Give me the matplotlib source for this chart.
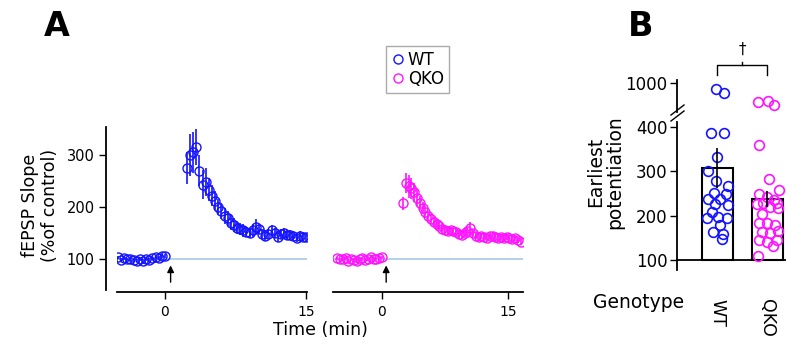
import numpy as np
import matplotlib.pyplot as plt
from matplotlib.lines import Line2D

plt.rcParams['font.family'] = 'DejaVu Sans'

W, H = 786, 349
wt_color = '#1414ff'
qko_color = '#ff14ff'

# ---- panel A: time course (min, % of control) ----
dt = 1.0 / 3.0  # 20 s sampling
wt_base_start = -5.0
wt_base = [103, 98, 101, 99, 100, 98, 97, 99, 96, 100, 98, 101, 104, 102, 105, 106]
wt_base_err = [3, 3, 3, 3, 3, 3, 3, 3, 3, 3, 3, 3, 4, 4, 4, 4]
wt_post_start = 2.33
wt_post = [275, 300, 305, 315, 270, 243, 248, 233, 222, 212, 200, 192, 183, 178, 170, 165,
           160, 158, 155, 152, 150, 155, 162, 158, 148, 145, 148, 155, 150, 143, 148, 150,
           146, 147, 145, 140, 145, 143, 142]
wt_post_err = [30, 40, 40, 35, 30, 28, 26, 22, 20, 18, 15, 15, 15, 14, 14, 13, 12, 12, 12, 10,
               10, 12, 14, 10, 10, 10, 10, 10, 10, 10, 10, 9, 9, 9, 9, 8, 8, 8, 8]

qko_base_start = -5.33
qko_base = [101, 99, 100, 102, 97, 100, 98, 96, 99, 101, 98, 100, 104, 100, 99, 102, 103]
qko_base_err = [3] * 17
qko_post_start = 2.5
qko_post = [207, 246, 240, 236, 228, 218, 208, 198, 190, 183, 177, 172, 167, 163, 158, 155,
            154, 155, 153, 152, 148, 146, 150, 153, 160, 150, 145, 142, 144, 143, 140, 144,
            145, 143, 140, 142, 141, 142, 140, 138, 140, 136, 133]
qko_post_err = [12, 20, 22, 20, 18, 16, 14, 12, 12, 10, 10, 9, 9, 8, 8, 8, 8, 7, 7, 7, 7, 7,
                7, 8, 12, 8, 7, 7, 6, 6, 6, 6, 6, 6, 6, 6, 6, 6, 6, 6, 6, 6, 6]
tetanus_wt = 0.6
tetanus_qko = 0.5

# ---- panel B: earliest potentiation per slice ----
genotypes = ['WT', 'QKO']
bar_means = [308, 238]
bar_sem = [45, 18]
wt_pts = [920, 860, 387, 386, 333, 301, 278, 267, 252, 250, 237, 238, 226, 224, 209, 195,
          198, 194, 179, 164, 158, 147]
wt_jit = [-0.03, 0.13, -0.12, 0.13, 0.0, -0.19, -0.02, 0.21, -0.07, 0.18, -0.19, 0.06, -0.04,
          0.21, -0.11, -0.21, 0.01, 0.19, 0.06, -0.09, 0.11, 0.09]
qko_pts = [744, 753, 698, 360, 282, 258, 249, 243, 229, 229, 235, 226, 220, 217, 203, 183,
           183, 179, 164, 162, 166, 145, 141, 145, 132, 109]
qko_jit = [-0.19, 0.01, 0.13, -0.17, 0.03, 0.23, -0.17, -0.01, -0.09, 0.19, 0.13, -0.21, 0.06,
           0.21, -0.11, -0.16, -0.01, 0.16, -0.11, 0.06, 0.21, -0.17, -0.01, 0.19, 0.11, -0.19]


def fbox(x0, y0, x1, y1):
    # pixel box (top-left origin) -> figure fraction rect
    return [x0 / W, 1 - y1 / H, (x1 - x0) / W, (y1 - y0) / H]


fig = plt.figure(figsize=(W / 100, H / 100), dpi=100)

axL = fig.add_axes(fbox(117, 127, 307, 292))
axR = fig.add_axes(fbox(333, 127, 523, 292))
ylimA = (36.5, 353.8)


def trace(ax, base_start, base, base_err, post_start, post, post_err, color):
    tb = base_start + dt * np.arange(len(base))
    tp = post_start + dt * np.arange(len(post))
    for t, v, e in ((tb, base, base_err), (tp, post, post_err)):
        ax.errorbar(t, v, yerr=e, fmt='o', ms=6.5, mfc='none', mec=color, mew=1.0,
                    ecolor=color, elinewidth=1.2, capsize=0, zorder=3)


for ax, xlim in ((axL, (-5.1, 15.1)), (axR, (-5.83, 16.79))):
    ax.axhline(100, color='#a8c8e8', lw=1.2, zorder=1)
    ax.set_xlim(*xlim)
    ax.set_ylim(*ylimA)
    for s in ('top', 'right'):
        ax.spines[s].set_visible(False)
    ax.spines['bottom'].set_linewidth(1.3)
    ax.set_xticks([0, 15])
    ax.tick_params(axis='x', direction='out', length=5, width=1, labelsize=10, pad=4)

trace(axL, wt_base_start, wt_base, wt_base_err, wt_post_start, wt_post, wt_post_err, wt_color)
trace(axR, qko_base_start, qko_base, qko_base_err, qko_post_start, qko_post, qko_post_err, qko_color)

axL.spines['left'].set_position(('outward', 8))
axL.spines['left'].set_linewidth(1.3)
axL.spines['left'].set_bounds(40, ylimA[1])
axL.set_yticks([100, 200, 300])
axL.tick_params(axis='y', direction='out', length=5, width=1, labelsize=10.5, pad=3)
axR.spines['left'].set_visible(False)
axR.set_yticks([])

for ax, t in ((axL, tetanus_wt), (axR, tetanus_qko)):
    ax.annotate('', xy=(t, 93), xytext=(t, 50),
                arrowprops=dict(arrowstyle='-|>', color='black', lw=1.0, mutation_scale=10))

fig.text(320 / W, 1 - 330 / H, 'Time (min)', ha='center', va='center', fontsize=12.5)
fig.text(40 / W, 1 - 205 / H, 'fEPSP Slope\n(%of control)', rotation=90, ha='center',
         va='center', fontsize=12.5, linespacing=1.1)

handles = [Line2D([], [], ls='none', marker='o', ms=6.5, mfc='none', mec=wt_color, mew=1.0),
           Line2D([], [], ls='none', marker='o', ms=6.5, mfc='none', mec=qko_color, mew=1.0)]
fig.legend(handles, genotypes, loc='upper left', bbox_to_anchor=(386 / W, 1 - 46 / H),
           fontsize=12, frameon=True, fancybox=False, edgecolor='#aaaaaa', framealpha=1,
           handlelength=0.8, handletextpad=0.2, borderpad=0.3, labelspacing=0.05,
           borderaxespad=0)

# ---- panel B axes: broken y axis ----
axB = fig.add_axes(fbox(677, 121.7, 786, 270))
axT = fig.add_axes(fbox(677, 80, 786, 112))
axB.set_ylim(77.4, 412)
axT.set_ylim(600, 1046)
x = np.arange(len(genotypes))
for ax in (axB, axT):
    ax.set_xlim(-0.8, 1.38)
    ax.patch.set_alpha(0)
    for s in ('top', 'right'):
        ax.spines[s].set_visible(False)
    ax.spines['left'].set_linewidth(1.3)
    ax.tick_params(axis='y', direction='out', length=5, width=1, labelsize=12, pad=2)

axB.bar(x, np.array(bar_means) - 100, bottom=100, width=0.62, color='white',
        edgecolor='black', lw=1.5, zorder=2)
axB.errorbar(x, bar_means, yerr=bar_sem, fmt='none', ecolor='black', elinewidth=1.2,
             capsize=0, zorder=4)
for pts, jit, xi, c in ((wt_pts, wt_jit, 0, wt_color), (qko_pts, qko_jit, 1, qko_color)):
    pts = np.array(pts)
    xs = xi + np.array(jit)
    lo = pts < 500
    axB.plot(xs[lo], pts[lo], 'o', ms=7, mfc='none', mec=c, mew=1.2, zorder=3, clip_on=False)
    axT.plot(xs[~lo], pts[~lo], 'o', ms=7, mfc='none', mec=c, mew=1.2, zorder=3, clip_on=False)

axB.spines['bottom'].set_position(('data', 100))
axB.spines['bottom'].set_linewidth(1.3)
axB.set_yticks([100, 200, 300, 400])
axB.set_xticks(x)
axB.set_xticklabels(genotypes, rotation=-90, fontsize=12.5)
axB.tick_params(axis='x', length=0, pad=28)
axT.spines['bottom'].set_visible(False)
axT.set_xticks([])
axT.set_yticks([1000])

# break marks on the y axis
for dy in (0, 6):
    fig.add_artist(Line2D([(671) / W, (684) / W], [1 - (121 - dy) / H, 1 - (111 - dy) / H],
                          color='black', lw=1.0))

# significance bracket
br = axT.get_xaxis_transform()
axT.plot([0, 0, 1, 1], [1.16, 1.47, 1.47, 1.16], color='black', lw=1.0, transform=br,
         clip_on=False)
axT.plot([0.5, 0.5], [1.47, 1.55], color='black', lw=1.0, transform=br, clip_on=False)
axT.text(0.5, 1.95, '\u2020', transform=br, ha='center', va='center', fontsize=11)

fig.text(639 / W, 1 - 302 / H, 'Genotype', ha='center', va='center', fontsize=13.5)
fig.text(605 / W, 1 - 172 / H, 'Earliest\npotentiation', rotation=90, ha='center',
         va='center', fontsize=13.5, linespacing=1.0)

fig.text(57 / W, 1 - 26 / H, 'A', ha='center', va='center', fontsize=24, fontweight='bold')
fig.text(641 / W, 1 - 26 / H, 'B', ha='center', va='center', fontsize=24, fontweight='bold')

fig.savefig('out.png', dpi=100)
